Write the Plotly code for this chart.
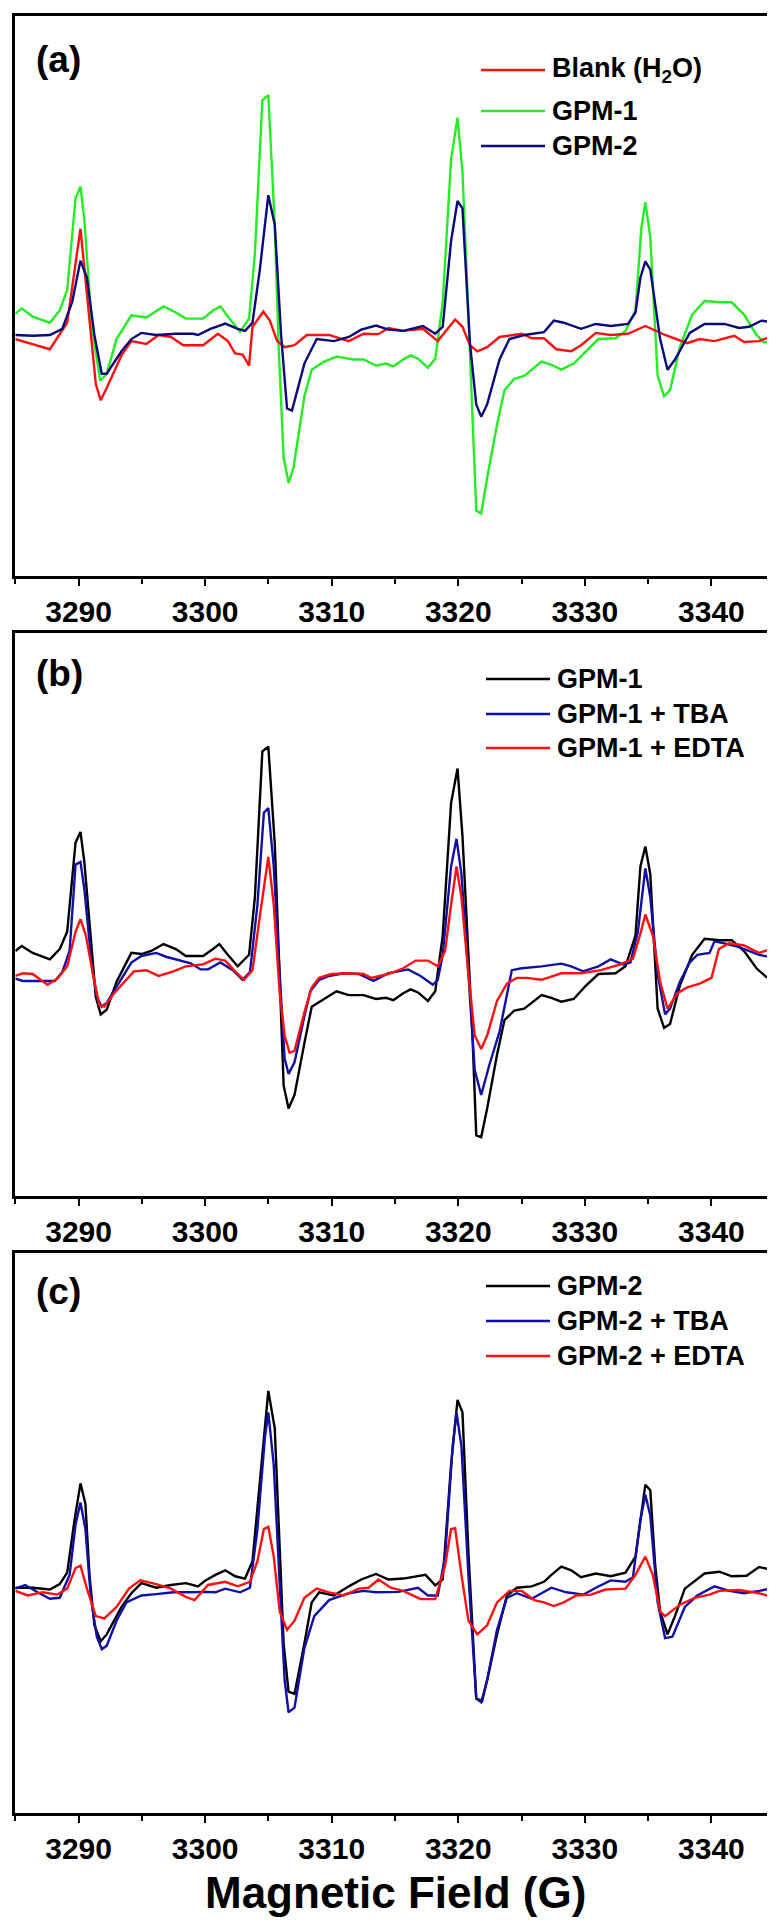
import plotly.graph_objects as go

# ---------------- Panel (a) ----------------
a_blank_x = [3285.00, 3287.73, 3289.10, 3290.15, 3291.36, 3291.75, 3292.22, 3293.39, 3294.17, 3295.35, 3296.32, 3297.30, 3298.27, 3299.84, 3301.01, 3301.79, 3302.37, 3302.96, 3303.47, 3303.74, 3304.60, 3305.11, 3305.69, 3306.28, 3307.06, 3308.03, 3309.79, 3311.35, 3312.52, 3313.69, 3314.48, 3315.65, 3317.21, 3318.38, 3319.75, 3320.33, 3320.92, 3321.50, 3322.28, 3323.26, 3325.02, 3325.80, 3326.77, 3327.75, 3328.92, 3329.70, 3330.87, 3332.04, 3333.41, 3334.78, 3336.34, 3338.09, 3339.07, 3340.24, 3341.80, 3342.58, 3343.76, 3345.00]
a_blank_y = [-10, -35, 30, 260, -120, -160, -130, -50, -15, -22, 0, -5, -25, -25, 3, -15, -45, -48, -75, 20, 57, 35, -15, -30, -25, 0, 0, -15, 3, 2, 17, 10, 15, -15, 38, 20, -25, -40, -30, -5, 3, -8, -8, -35, -40, -25, 5, 0, 3, 22, 0, -20, -10, -15, -2, -17, -15, 0]

a_gpm1_x = [3285.00, 3285.51, 3286.37, 3287.73, 3288.51, 3289.10, 3289.76, 3290.15, 3290.46, 3291.05, 3291.71, 3292.22, 3293.00, 3294.17, 3295.35, 3296.71, 3297.69, 3298.47, 3299.84, 3300.62, 3301.20, 3301.79, 3302.76, 3303.47, 3303.93, 3304.52, 3304.99, 3305.50, 3305.81, 3306.20, 3306.59, 3306.98, 3307.84, 3308.42, 3309.40, 3310.38, 3311.74, 3312.52, 3313.50, 3314.28, 3314.87, 3315.65, 3316.23, 3316.82, 3317.60, 3318.18, 3318.77, 3319.43, 3319.94, 3320.33, 3320.80, 3321.11, 3321.42, 3321.81, 3322.28, 3323.06, 3323.65, 3324.43, 3325.21, 3326.19, 3326.58, 3327.36, 3328.14, 3329.12, 3330.09, 3331.07, 3332.43, 3333.21, 3334.00, 3334.46, 3334.78, 3335.17, 3335.75, 3336.26, 3336.73, 3337.51, 3338.48, 3339.46, 3340.63, 3341.61, 3342.58, 3343.56, 3344.15, 3345.00]
a_gpm1_y = [52, 65, 45, 30, 60, 110, 335, 363, 280, 20, -112, -95, -10, 48, 43, 70, 55, 40, 40, 60, 70, 45, 8, 40, 200, 575, 587, 270, -30, -300, -362, -325, -150, -85, -65, -53, -60, -60, -75, -70, -77, -60, -50, -58, -80, -58, 80, 430, 532, 400, 50, -200, -430, -437, -350, -220, -135, -107, -100, -75, -65, -73, -85, -70, -40, -10, -8, 10, 60, 260, 325, 240, -100, -150, -135, -30, 50, 83, 80, 80, 50, 0, -18, -18]

a_gpm2_x = [3285.00, 3286.37, 3287.73, 3288.71, 3289.49, 3290.15, 3290.66, 3291.25, 3291.83, 3292.22, 3293.39, 3294.17, 3294.96, 3296.13, 3297.69, 3299.05, 3299.44, 3300.42, 3301.59, 3302.57, 3303.15, 3303.74, 3304.32, 3304.99, 3305.50, 3306.00, 3306.47, 3306.86, 3307.84, 3308.81, 3310.18, 3311.35, 3312.33, 3313.50, 3314.48, 3315.65, 3317.21, 3318.18, 3318.77, 3319.43, 3319.94, 3320.33, 3320.92, 3321.42, 3321.81, 3322.28, 3323.26, 3324.04, 3325.21, 3326.77, 3327.55, 3328.33, 3329.70, 3330.87, 3332.04, 3333.41, 3334.00, 3334.39, 3334.78, 3335.17, 3335.95, 3336.53, 3337.12, 3338.29, 3339.46, 3341.02, 3342.19, 3342.97, 3343.95, 3345.00]
a_gpm2_y = [0, -2, 0, 15, 80, 182, 140, 0, -95, -95, -40, -10, 5, 0, 3, 3, 0, 15, 28, 15, 10, 30, 160, 342, 270, 0, -180, -185, -70, -10, -15, -5, 13, 23, 13, 10, 22, 3, 20, 230, 328, 310, -20, -170, -200, -170, -60, -10, 0, 7, 35, 30, 15, 27, 22, 27, 55, 140, 180, 160, -10, -85, -60, 5, 27, 27, 17, 20, 35, 30]

# ---------------- Panel (b) ----------------
b_gpm1_x = [3285.00, 3285.51, 3286.37, 3287.73, 3288.51, 3289.10, 3289.76, 3290.15, 3290.46, 3291.05, 3291.36, 3291.75, 3292.22, 3293.00, 3294.17, 3294.96, 3295.74, 3296.71, 3297.69, 3298.47, 3299.84, 3300.62, 3301.12, 3301.79, 3302.57, 3303.47, 3303.93, 3304.52, 3304.99, 3305.50, 3305.81, 3306.20, 3306.59, 3307.06, 3307.84, 3308.42, 3309.40, 3310.38, 3311.35, 3312.52, 3313.50, 3314.28, 3314.87, 3315.65, 3316.23, 3316.82, 3317.60, 3318.18, 3318.77, 3319.43, 3319.94, 3320.33, 3320.80, 3321.11, 3321.42, 3321.81, 3322.28, 3323.06, 3323.65, 3324.43, 3325.21, 3326.58, 3327.36, 3328.14, 3329.12, 3330.09, 3331.07, 3332.43, 3333.21, 3334.00, 3334.39, 3334.78, 3335.17, 3335.75, 3336.26, 3336.73, 3337.51, 3338.48, 3339.46, 3340.63, 3341.61, 3342.58, 3343.56, 3344.34, 3345.00]
b_gpm1_y = [60, 73, 55, 38, 65, 110, 342, 370, 290, 50, -60, -105, -93, -20, 55, 52, 60, 78, 65, 47, 47, 65, 78, 50, 20, 50, 200, 580, 592, 340, 50, -290, -350, -315, -180, -85, -65, -45, -55, -55, -65, -62, -68, -50, -40, -48, -70, -45, 100, 445, 535, 360, 50, -150, -420, -425, -350, -210, -120, -95, -90, -55, -62, -72, -65, -30, 0, 2, 20, 100, 280, 332, 260, -90, -140, -130, -30, 50, 92, 88, 88, 60, 15, -8, -8]

b_tba_x = [3285.00, 3285.59, 3286.76, 3288.12, 3288.71, 3289.29, 3289.76, 3290.15, 3290.46, 3291.05, 3291.44, 3291.83, 3292.22, 3293.39, 3294.17, 3294.96, 3296.13, 3296.91, 3298.08, 3298.86, 3299.64, 3300.23, 3301.20, 3302.18, 3302.96, 3303.54, 3304.13, 3304.64, 3304.99, 3305.42, 3305.89, 3306.28, 3306.59, 3307.06, 3307.84, 3308.31, 3309.01, 3309.79, 3310.96, 3312.13, 3313.30, 3314.48, 3316.04, 3317.02, 3317.99, 3318.38, 3318.77, 3319.43, 3319.86, 3320.25, 3320.80, 3321.30, 3321.81, 3322.47, 3323.26, 3323.92, 3324.23, 3325.02, 3326.58, 3328.14, 3328.92, 3329.86, 3331.07, 3332.04, 3333.02, 3333.60, 3334.19, 3334.78, 3335.17, 3335.75, 3336.34, 3336.73, 3337.51, 3338.29, 3338.88, 3339.85, 3340.24, 3341.02, 3342.19, 3343.76, 3345.00]
b_tba_y = [-12, -18, -18, -18, 5, 60, 285, 292, 220, 20, -60, -85, -75, -10, 30, 47, 55, 45, 35, 28, 12, 12, 30, 10, -15, 5, 180, 420, 432, 280, 0, -220, -260, -230, -110, -45, -15, -5, 2, 0, -18, 2, 12, -5, -28, -15, 50, 280, 352, 260, 0, -250, -315, -235, -150, -35, 10, 15, 20, 27, 20, 7, 20, 38, 25, 30, 110, 275, 200, 0, -105, -90, -20, 30, 50, 55, 85, 80, 70, 50, 42]

b_edta_x = [3285.00, 3285.59, 3286.37, 3287.54, 3288.32, 3289.10, 3289.76, 3290.15, 3290.58, 3291.13, 3291.64, 3292.03, 3292.81, 3293.78, 3294.37, 3295.35, 3296.32, 3297.49, 3298.47, 3299.84, 3300.81, 3301.59, 3302.37, 3303.08, 3303.74, 3304.32, 3304.99, 3305.42, 3305.89, 3306.28, 3306.67, 3307.06, 3307.84, 3308.42, 3309.01, 3309.99, 3311.35, 3312.52, 3313.11, 3314.48, 3315.65, 3316.63, 3317.60, 3318.38, 3318.96, 3319.43, 3319.86, 3320.25, 3320.80, 3321.30, 3321.81, 3322.28, 3323.06, 3323.84, 3324.63, 3325.41, 3326.58, 3328.14, 3329.70, 3331.26, 3332.82, 3333.80, 3334.39, 3334.78, 3335.37, 3335.95, 3336.53, 3337.32, 3338.09, 3339.07, 3340.01, 3340.59, 3341.37, 3342.54, 3343.76, 3345.00]
b_edta_y = [-5, 2, 0, -28, -12, 20, 110, 143, 100, 0, -80, -85, -50, -15, 7, 10, -5, 7, 20, 25, 40, 35, 7, -15, 10, 150, 305, 180, -50, -160, -205, -200, -100, -35, -10, 0, 2, 0, -10, 0, 15, 35, 35, 20, 60, 180, 280, 200, 0, -160, -195, -160, -70, -25, -10, -10, -15, 2, 2, 10, 25, 40, 105, 155, 100, -20, -90, -50, -35, -25, -10, 65, 80, 75, 55, 68]

# ---------------- Panel (c) ----------------
c_gpm2_x = [3285.00, 3286.37, 3287.73, 3288.51, 3289.10, 3289.68, 3290.15, 3290.54, 3290.86, 3291.25, 3291.75, 3292.22, 3293.39, 3294.17, 3294.96, 3296.13, 3297.30, 3298.47, 3299.44, 3300.03, 3300.81, 3301.59, 3302.37, 3303.15, 3303.74, 3304.32, 3304.99, 3305.50, 3305.81, 3306.20, 3306.59, 3307.06, 3307.84, 3308.42, 3309.01, 3310.18, 3311.35, 3312.33, 3313.50, 3314.48, 3315.65, 3316.82, 3317.41, 3318.18, 3318.77, 3319.43, 3319.94, 3320.33, 3320.80, 3321.42, 3321.89, 3322.36, 3323.06, 3323.84, 3324.63, 3325.80, 3326.77, 3327.36, 3328.14, 3328.92, 3329.70, 3330.87, 3332.04, 3333.21, 3334.00, 3334.78, 3335.17, 3335.56, 3335.95, 3336.53, 3337.12, 3337.90, 3339.46, 3340.63, 3341.61, 3342.78, 3343.76, 3345.00]
c_gpm2_y = [2, 2, -2, 10, 35, 150, 230, 185, 30, -80, -115, -100, -40, -10, 12, 2, 8, 12, 5, 18, 30, 40, 27, 22, 60, 230, 432, 350, 130, -120, -225, -230, -120, -30, -8, -15, 5, 20, 32, 20, 22, 28, 30, 7, 20, 270, 412, 385, 80, -240, -245, -190, -100, -15, 2, 5, 15, 30, 48, 40, 25, 33, 27, 35, 70, 227, 215, 50, -50, -100, -60, 0, 33, 37, 27, 28, 47, 40]

c_tba_x = [3285.00, 3285.78, 3286.76, 3287.73, 3288.51, 3289.29, 3289.76, 3290.15, 3290.54, 3290.97, 3291.44, 3291.83, 3292.22, 3293.00, 3293.78, 3294.96, 3296.13, 3297.49, 3298.86, 3300.03, 3300.81, 3301.59, 3302.76, 3303.54, 3304.13, 3304.72, 3304.99, 3305.42, 3305.89, 3306.28, 3306.59, 3307.06, 3307.84, 3308.62, 3309.79, 3311.35, 3312.52, 3313.50, 3315.26, 3316.82, 3317.60, 3318.38, 3318.96, 3319.55, 3319.86, 3320.25, 3320.80, 3321.42, 3321.81, 3322.28, 3323.06, 3323.84, 3324.63, 3325.80, 3326.58, 3327.36, 3328.53, 3329.90, 3330.87, 3332.04, 3333.21, 3333.80, 3334.39, 3334.78, 3335.17, 3335.75, 3336.34, 3336.92, 3337.90, 3338.88, 3340.24, 3341.41, 3342.58, 3343.76, 3345.00]
c_tba_y = [0, 8, -8, -22, -20, 30, 140, 188, 130, -20, -105, -132, -125, -70, -30, -15, -12, -8, -8, -7, -8, 0, -8, 2, 130, 330, 385, 270, 10, -200, -270, -260, -130, -60, -25, -10, -5, -8, -7, 2, -15, -15, 70, 310, 385, 310, 30, -240, -248, -200, -90, -20, -10, -22, -10, 2, -8, -13, 2, 18, 15, 25, 150, 205, 160, -30, -108, -105, -40, -15, 5, -5, -10, -5, 2]

c_edta_x = [3285.00, 3285.98, 3287.15, 3288.32, 3289.10, 3289.76, 3290.15, 3290.66, 3291.36, 3292.03, 3293.00, 3293.98, 3294.88, 3296.13, 3297.30, 3298.47, 3299.17, 3300.23, 3301.59, 3302.57, 3303.54, 3304.13, 3304.64, 3304.99, 3305.42, 3305.89, 3306.47, 3307.06, 3307.84, 3308.81, 3309.79, 3310.96, 3312.13, 3312.91, 3313.69, 3314.67, 3315.65, 3317.02, 3318.18, 3318.96, 3319.43, 3319.75, 3320.25, 3320.80, 3321.50, 3322.28, 3323.06, 3324.04, 3325.02, 3326.00, 3326.77, 3327.55, 3328.33, 3329.32, 3330.48, 3331.65, 3333.21, 3334.00, 3334.78, 3335.37, 3335.95, 3336.34, 3337.51, 3338.68, 3339.85, 3340.63, 3342.19, 3343.76, 3345.00]
c_edta_y = [-5, -15, -8, -13, 0, 45, 50, 0, -60, -65, -40, 0, 18, 10, 0, -18, -25, 8, 15, 5, 15, 60, 130, 135, 70, -50, -90, -70, -20, 0, -8, -15, 0, 2, 20, 2, -5, -23, -23, 50, 130, 132, 30, -70, -100, -80, -30, -5, -5, -25, -30, -38, -30, -15, -13, -2, 0, 30, 70, 30, -50, -60, -35, -20, -13, -5, -3, -10, -20]

# axis ticks / labels
tick_vals = [3290, 3300, 3310, 3320, 3330, 3340]
tick_text = ["3290", "3300", "3310", "3320", "3330", "3340"]
x_range = [3285, 3345]
panel_labels = ["(a)", "(b)", "(c)"]
legend_a = ["Blank (H<sub>2</sub>O)", "GPM-1", "GPM-2"]
legend_b = ["GPM-1", "GPM-1 + TBA", "GPM-1 + EDTA"]
legend_c = ["GPM-2", "GPM-2 + TBA", "GPM-2 + EDTA"]
x_title = "Magnetic Field (G)"

W, H = 775, 1920
RED, GREEN, NAVY, BLUE, BLACK = "#ff1010", "#22ee22", "#0a0a7a", "#1010a8", "#000000"


def fx(px):
    return px / W


def fy(py):
    return 1 - py / H


# panel pixel boxes (top, bottom)
boxes = [(7.5, 568), (625, 1188), (1245, 1805)]
y_ranges = [[-590, 782], [-578, 888], [-490, 733]]
x_dom = [fx(7.3), fx(766.7)]

fig = go.Figure()

series = [
    [(a_blank_x, a_blank_y, RED), (a_gpm1_x, a_gpm1_y, GREEN), (a_gpm2_x, a_gpm2_y, NAVY)],
    [(b_gpm1_x, b_gpm1_y, BLACK), (b_tba_x, b_tba_y, BLUE), (b_edta_x, b_edta_y, RED)],
    [(c_gpm2_x, c_gpm2_y, BLACK), (c_tba_x, c_tba_y, BLUE), (c_edta_x, c_edta_y, RED)],
]
names = [legend_a, legend_b, legend_c]

for i, (panel, nm) in enumerate(zip(series, names)):
    xa = "x" if i == 0 else f"x{i + 1}"
    ya = "y" if i == 0 else f"y{i + 1}"
    order = [1, 0, 2] if i == 0 else [0, 1, 2]
    for k in order:
        xs, ys, col = panel[k]
        fig.add_trace(go.Scatter(x=xs, y=ys, mode="lines", name=nm[k],
                                 line=dict(color=col, width=2.4),
                                 xaxis=xa, yaxis=ya, showlegend=False))

font_tick = dict(family="Arial", size=30, color="black", weight="bold")
layout = dict(width=W, height=H, margin=dict(l=0, r=0, t=0, b=0),
              paper_bgcolor="white", plot_bgcolor="white", showlegend=False)

for i, (top, bot) in enumerate(boxes):
    sx = "" if i == 0 else str(i + 1)
    layout["xaxis" + sx] = dict(
        domain=x_dom, range=x_range, anchor="y" + sx,
        tickvals=tick_vals, ticktext=tick_text, ticks="outside", ticklen=7,
        tickwidth=2, tickcolor="black", tickfont=font_tick,
        minor=dict(dtick=5, tick0=3285, ticks="outside", ticklen=5, tickwidth=2, tickcolor="black"),
        showline=True, linecolor="black", linewidth=2.5, mirror=True,
        showgrid=False, zeroline=False, automargin=False)
    layout["yaxis" + sx] = dict(
        domain=[fy(bot), fy(top)], range=y_ranges[i], anchor="x" + sx,
        showticklabels=False, ticks="", showline=True, linecolor="black",
        linewidth=2.5, mirror=True, showgrid=False, zeroline=False, automargin=False)

fig.update_layout(**layout)

# panel labels
label_y = [51, 665, 1283]
for i, lab in enumerate(panel_labels):
    fig.add_annotation(x=fx(26), y=fy(label_y[i]), xref="paper", yref="paper",
                       text=lab, showarrow=False, xanchor="left", yanchor="middle",
                       font=dict(family="Arial", size=37, color="black", weight="bold"))

# legends (manual, long line samples like the reference)
leg_rows = [[62, 103, 138], [671, 706, 740], [1278, 1313, 1348]]
leg_line_x = [(473, 537), (478, 542), (478, 542)]
leg_text_x = [542, 547, 547]
for i in range(3):
    for k in range(3):
        col = series[i][k][2]
        yy = fy(leg_rows[i][k])
        fig.add_shape(type="line", xref="paper", yref="paper",
                      x0=fx(leg_line_x[i][0]), x1=fx(leg_line_x[i][1]), y0=yy, y1=yy,
                      line=dict(color=col, width=2.5))
        fig.add_annotation(x=fx(leg_text_x[i]), y=fy(leg_rows[i][k]), xref="paper", yref="paper",
                           text=names[i][k], showarrow=False, xanchor="left", yanchor="middle",
                           font=dict(family="Arial", size=27, color="black", weight="bold"))

# x-axis title
fig.add_annotation(x=fx(387), y=fy(1884), xref="paper", yref="paper", text=x_title,
                   showarrow=False, xanchor="center", yanchor="middle",
                   font=dict(family="Arial", size=44, color="black", weight="bold"))

fig.write_html("out.html")
